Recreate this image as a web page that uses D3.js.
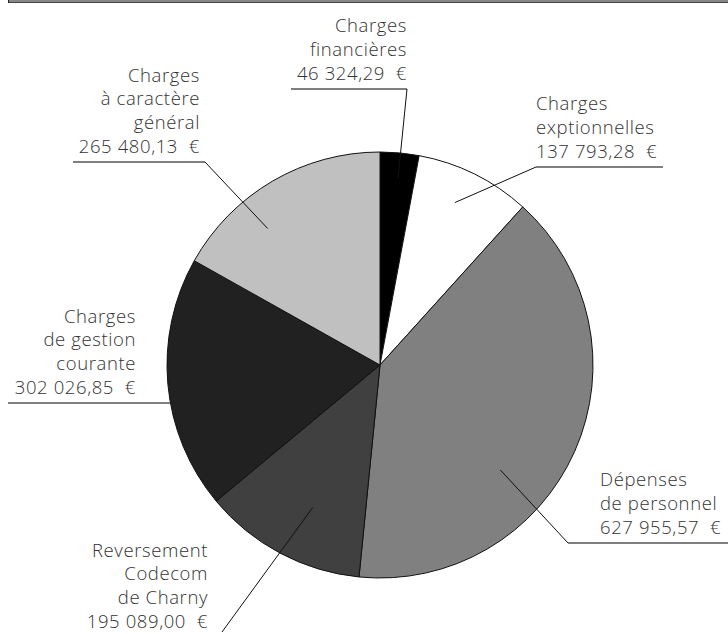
<!DOCTYPE html>
<html><head><meta charset="utf-8">
<script src="https://cdn.jsdelivr.net/npm/d3@7/dist/d3.min.js"></script>
<style>body{margin:0;background:#fff}svg{display:block}text{white-space:pre}</style>
</head><body>
<svg id="c" width="728" height="634"></svg>
<script>
// Data
const categories = ["Charges financières","Charges exptionnelles","Dépenses de personnel","Reversement Codecom de Charny","Charges de gestion courante","Charges à caractère général"];
const values = [46324.29, 137793.28, 627955.57, 195089.00, 302026.85, 265480.13];
const valueLabels = ["46 324,29  €","137 793,28  €","627 955,57  €","195 089,00  €","302 026,85  €","265 480,13  €"];
const labelLines = [["Charges","financières"],["Charges","exptionnelles"],["Dépenses","de personnel"],["Reversement","Codecom","de Charny"],["Charges","de gestion","courante"],["Charges","à caractère","général"]];
const colors = ["#000000","#ffffff","#808080","#404040","#212121","#c0c0c0"];

// Layout (label placement)
const layout = [
  {x:407, anchor:"end",   uy:89,  u:[291,407], lead:407, t:0.52, r:0.88},
  {x:536, anchor:"start", uy:167, u:[536,663], lead:536, t:0.45, r:0.84},
  {x:600, anchor:"start", uy:543, u:[568,728], lead:568, t:0.62, r:0.75},
  {x:208, anchor:"end",   uy:637, u:null,      lead:222, t:0.44, r:0.74},
  {x:136, anchor:"end",   uy:403, u:[8,170],   lead:170, t:0.5,  r:0.9, noLead:true},
  {x:200, anchor:"end",   uy:162, u:[73,205],  lead:205, t:0.35, r:0.83}
];

const svg = d3.select("#c");
const cx = 380, cy = 365, R = 213;

// top border
svg.append("line").attr("x1",8).attr("x2",728).attr("y1",1).attr("y2",1).attr("stroke","#888").attr("stroke-width",2);
svg.append("line").attr("x1",8).attr("x2",728).attr("y1",2.5).attr("y2",2.5).attr("stroke","#444").attr("stroke-width",1);
svg.append("line").attr("x1",8.5).attr("x2",8.5).attr("y1",0).attr("y2",3).attr("stroke","#222").attr("stroke-width",1);

const pie = d3.pie().sort(null).value(d=>d)(values);
const arc = d3.arc().innerRadius(0).outerRadius(R);
const g = svg.append("g").attr("transform",`translate(${cx},${cy})`);
g.selectAll("path").data(pie).join("path")
  .attr("d",arc).attr("fill",(d,i)=>colors[i])
  .attr("stroke","#111").attr("stroke-width",1).attr("stroke-linejoin","round");

const lh = 23.8;
const fontFamily = "'Open Sans', Lato, sans-serif";
pie.forEach((d,i)=>{
  const L = layout[i];
  const lines = labelLines[i].concat([valueLabels[i]]);
  const baseLast = L.uy - 9;
  lines.forEach((s,j)=>{
    svg.append("text").attr("x",L.x).attr("y",baseLast - (lines.length-1-j)*lh)
      .attr("text-anchor",L.anchor).attr("fill","#333")
      .attr("font-family",fontFamily).attr("font-weight",300).attr("font-size",18.5)
      .attr("letter-spacing",0.6)
      .text(s);
  });
  if(L.u){
    svg.append("line").attr("x1",L.u[0]).attr("x2",L.u[1]).attr("y1",L.uy).attr("y2",L.uy)
      .attr("stroke","#555").attr("stroke-width",1.5);
  }
  if(!L.noLead){
    const a = d.startAngle + (d.endAngle-d.startAngle)*L.t;
    const px = cx + Math.sin(a)*R*L.r, py = cy - Math.cos(a)*R*L.r;
    svg.append("line").attr("x1",L.lead).attr("y1",Math.min(L.uy,632)).attr("x2",px).attr("y2",py)
      .attr("stroke","#111").attr("stroke-width",1);
  }
});
</script>
</body></html>
